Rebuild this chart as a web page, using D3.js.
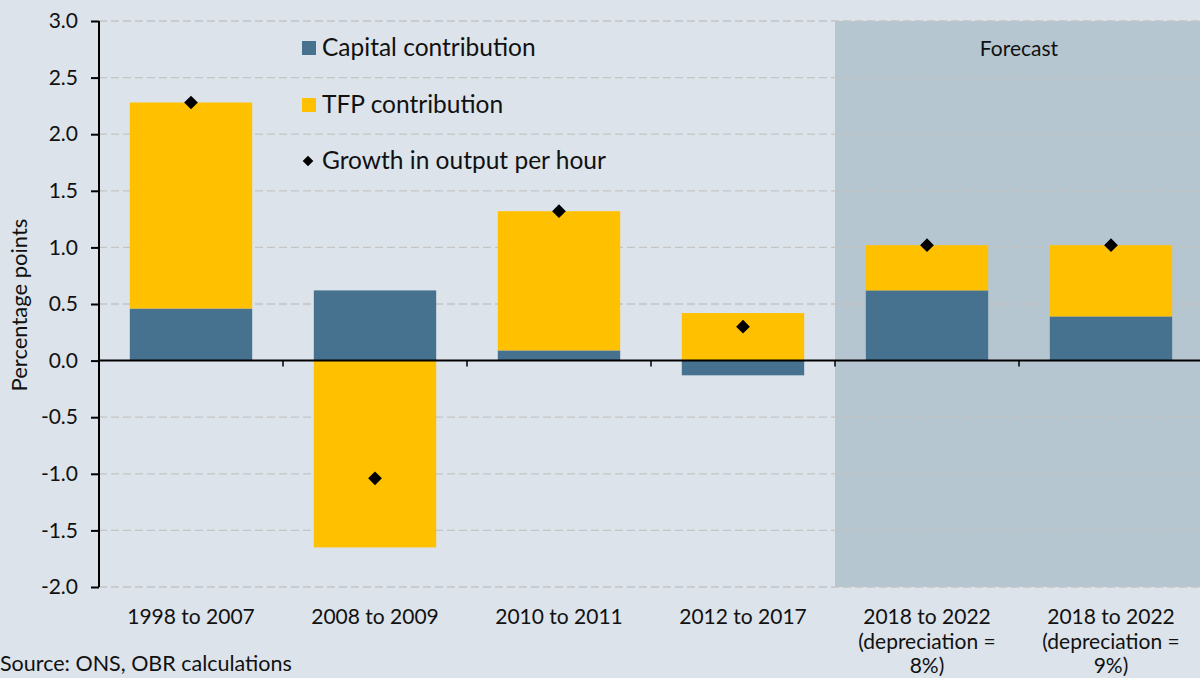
<!DOCTYPE html>
<html>
<head>
<meta charset="utf-8">
<script src="https://cdn.jsdelivr.net/npm/d3@7"></script>
<style>
  html, body { margin: 0; padding: 0; background: #dce3ea; }
  svg { display: block; font-family: "Lato", "DejaVu Sans", sans-serif; }
</style>
</head>
<body>
<div id="chart"></div>
<script>
// Data
var categories = ["1998 to 2007", "2008 to 2009", "2010 to 2011", "2012 to 2017", "2018 to 2022 (8%)", "2018 to 2022 (9%)"];
var categoryLabels = [
  ["1998 to 2007"],
  ["2008 to 2009"],
  ["2010 to 2011"],
  ["2012 to 2017"],
  ["2018 to 2022", "(depreciation =", "8%)"],
  ["2018 to 2022", "(depreciation =", "9%)"]
];
var capital = [0.46, 0.62, 0.09, -0.13, 0.62, 0.39];
var tfp = [1.82, -1.65, 1.23, 0.42, 0.40, 0.63];
var outputPerHour = [2.28, -1.04, 1.32, 0.30, 1.02, 1.02];
var yTicks = [3.0, 2.5, 2.0, 1.5, 1.0, 0.5, 0.0, -0.5, -1.0, -1.5, -2.0];
var forecastCategories = ["2018 to 2022 (8%)", "2018 to 2022 (9%)"];
var seriesNames = ["Capital contribution", "TFP contribution", "Growth in output per hour"];

var width = 1200, height = 678;
var margin = { top: 21, right: -3, bottom: 91, left: 99 };
var colors = { capital: "#46718f", tfp: "#ffc000", marker: "#000000", shade: "#b6c6d0", grid: "#c4c4c4" };

var svg = d3.select("#chart").append("svg")
  .attr("width", width)
  .attr("height", height);

var x = d3.scaleBand()
  .domain(categories)
  .range([margin.left, width - margin.right])
  .paddingInner(0.335)
  .paddingOuter(0.1675);

var y = d3.scaleLinear()
  .domain([-2, 3])
  .range([height - margin.bottom, margin.top]);

// Forecast shading
var fx0 = x(forecastCategories[0]) - x.step() * x.paddingInner() / 2;
svg.append("rect")
  .attr("x", fx0)
  .attr("y", y(3))
  .attr("width", width - fx0)
  .attr("height", y(-2) - y(3))
  .attr("fill", colors.shade);

svg.append("text")
  .attr("x", (fx0 + x.range()[1]) / 2)
  .attr("y", 56)
  .attr("text-anchor", "middle")
  .attr("font-size", 21)
  .attr("fill", "#111")
  .text("Forecast");

// Gridlines
svg.append("g")
  .selectAll("line")
  .data(yTicks.filter(function (d) { return d !== 0; }))
  .join("line")
  .attr("x1", margin.left)
  .attr("x2", width)
  .attr("y1", function (d) { return y(d); })
  .attr("y2", function (d) { return y(d); })
  .attr("stroke", colors.grid)
  .attr("stroke-width", 1.3)
  .attr("stroke-dasharray", "8,4");

// Stacked bars
var rows = categories.map(function (c, i) {
  return { category: c, capital: capital[i], tfp: tfp[i] };
});
var stack = d3.stack()
  .keys(["capital", "tfp"])
  .offset(d3.stackOffsetDiverging);
var series = stack(rows);

svg.append("g")
  .selectAll("g")
  .data(series)
  .join("g")
  .attr("fill", function (s) { return colors[s.key]; })
  .selectAll("rect")
  .data(function (s) { return s; })
  .join("rect")
  .attr("x", function (d) { return x(d.data.category); })
  .attr("width", x.bandwidth())
  .attr("y", function (d) { return y(Math.max(d[0], d[1])); })
  .attr("height", function (d) { return Math.abs(y(d[0]) - y(d[1])); });

// Diamonds
var diamond = d3.symbol().type(d3.symbolDiamond2).size(120);
svg.append("g")
  .selectAll("path")
  .data(outputPerHour)
  .join("path")
  .attr("d", diamond)
  .attr("transform", function (d, i) {
    return "translate(" + (x(categories[i]) + x.bandwidth() / 2) + "," + y(d) + ")";
  })
  .attr("fill", colors.marker);

// Y axis
var fmt = function (d) { return d3.format(".1f")(d).replace("\u2212", "-"); };
var yAxis = svg.append("g")
  .attr("transform", "translate(" + margin.left + ",0)")
  .call(d3.axisLeft(y).tickValues(yTicks).tickFormat(fmt).tickSize(8).tickPadding(13));
yAxis.select(".domain").attr("stroke", "#000").attr("stroke-width", 2).attr("d", "M0," + y(3) + "V" + y(-2));
yAxis.selectAll(".tick line").attr("stroke", "#000").attr("stroke-width", 2);
yAxis.selectAll(".tick text").attr("font-size", 21).attr("fill", "#111").attr("font-family", "Lato, sans-serif");

// Zero line with category boundary ticks
svg.append("line")
  .attr("x1", margin.left)
  .attr("x2", width)
  .attr("y1", y(0))
  .attr("y2", y(0))
  .attr("stroke", "#000")
  .attr("stroke-width", 2);

svg.append("g")
  .selectAll("line")
  .data(categories.slice(1))
  .join("line")
  .attr("x1", function (c) { return x(c) - x.step() * x.paddingInner() / 2; })
  .attr("x2", function (c) { return x(c) - x.step() * x.paddingInner() / 2; })
  .attr("y1", y(0))
  .attr("y2", y(0) + 6)
  .attr("stroke", "#000")
  .attr("stroke-width", 1.5);

// Category labels
var labels = svg.append("g")
  .selectAll("text")
  .data(categoryLabels)
  .join("text")
  .attr("x", function (d, i) { return x(categories[i]) + x.bandwidth() / 2; })
  .attr("y", 624)
  .attr("text-anchor", "middle")
  .attr("font-size", 21)
  .attr("fill", "#111");
labels.selectAll("tspan")
  .data(function (d) { return d; })
  .join("tspan")
  .attr("x", function () { return this.parentNode.getAttribute("x"); })
  .attr("dy", function (d, i) { return i === 0 ? 0 : 24.5; })
  .text(function (d) { return d; });

// Y axis title
svg.append("text")
  .attr("transform", "translate(27,305) rotate(-90)")
  .attr("text-anchor", "middle")
  .attr("font-size", 22)
  .attr("fill", "#111")
  .text("Percentage points");

// Legend
var legend = svg.append("g").attr("transform", "translate(302,0)");
var legendY = [48, 105, 161];
legend.append("rect").attr("x", 0).attr("y", legendY[0] - 7).attr("width", 14).attr("height", 14).attr("fill", colors.capital);
legend.append("rect").attr("x", 0).attr("y", legendY[1] - 7).attr("width", 14).attr("height", 14).attr("fill", colors.tfp);
legend.append("path").attr("d", d3.symbol().type(d3.symbolDiamond2).size(72)).attr("transform", "translate(6," + legendY[2] + ")").attr("fill", colors.marker);
legend.selectAll("text")
  .data(seriesNames)
  .join("text")
  .attr("x", 20)
  .attr("y", function (d, i) { return legendY[i]; })
  .attr("dy", "0.33em")
  .attr("font-size", 24.5)
  .attr("fill", "#111")
  .text(function (d) { return d; });

// Source
svg.append("text")
  .attr("x", 0)
  .attr("y", 671)
  .attr("font-size", 21.5)
  .attr("fill", "#111")
  .text("Source: ONS, OBR calculations");
</script>
</body>
</html>
